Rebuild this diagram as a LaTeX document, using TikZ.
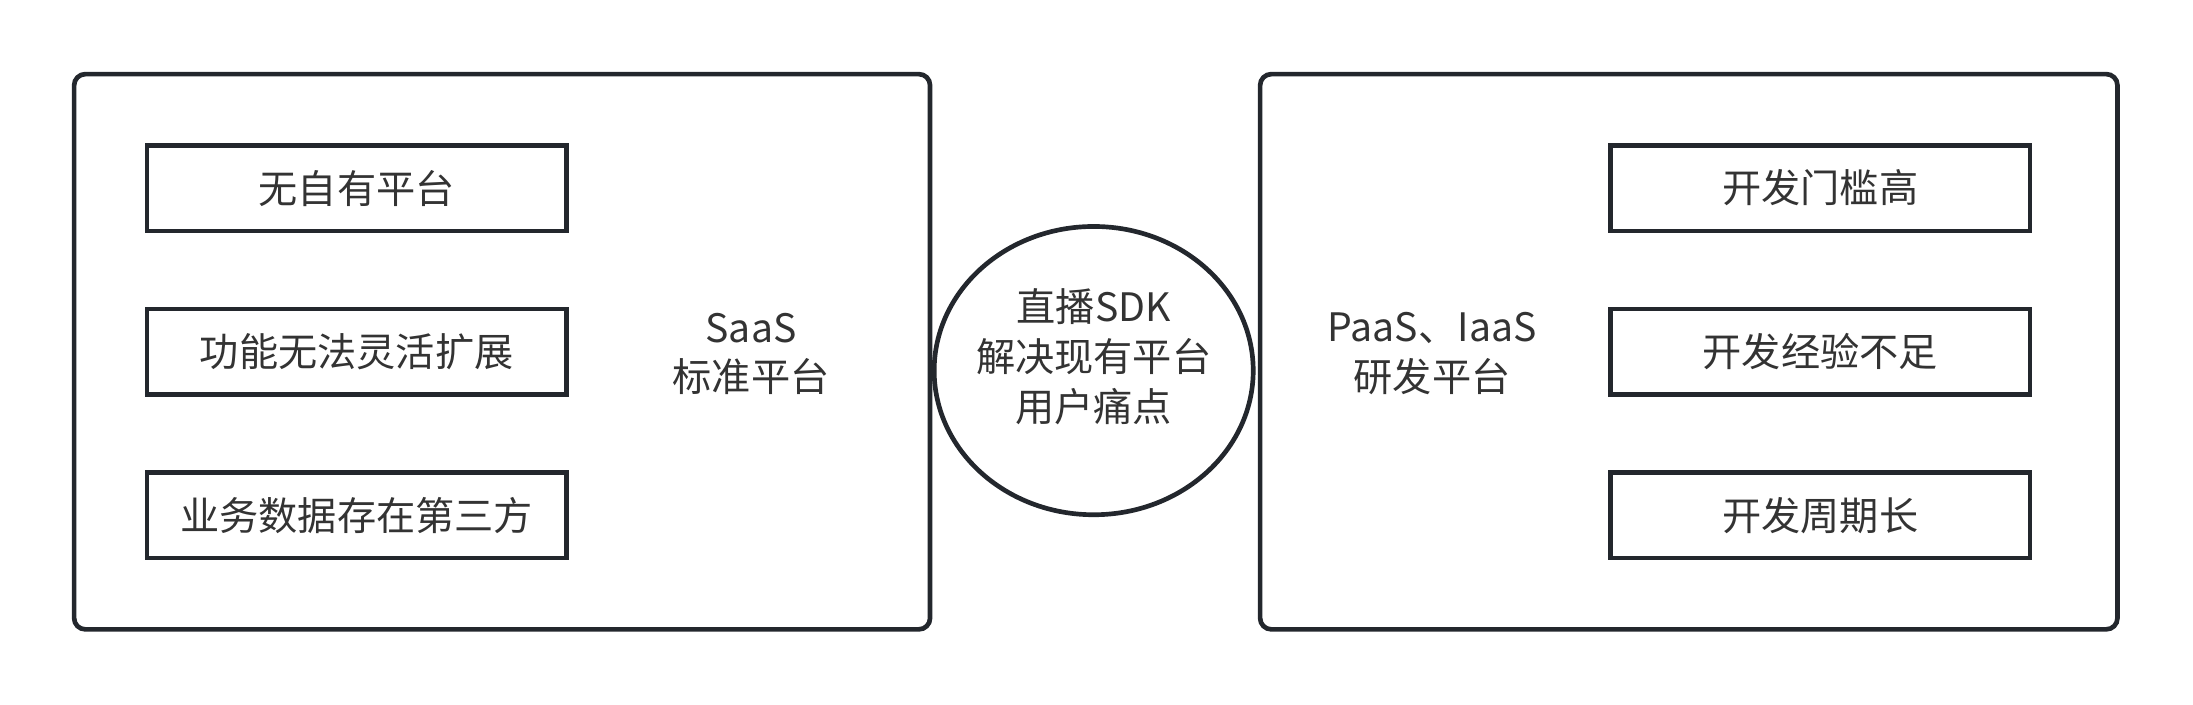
\documentclass[tikz,border=0pt]{standalone}
\usepackage{fontspec}
\setmainfont{Noto Sans CJK SC}
\usetikzlibrary{shapes.geometric}
\definecolor{ln}{HTML}{23272D}
\definecolor{tx}{HTML}{333333}
\begin{document}
\begin{tikzpicture}[x=0.01cm,y=-0.01cm,
  every node/.style={font=\fontsize{7.97pt}{10.1pt}\selectfont, text=tx, align=center},
  outerbox/.style={draw=ln, line width=0.95pt, rounded corners=0.08cm},
  itembox/.style={draw=ln, line width=0.9pt, rectangle, minimum width=3.0cm, minimum height=0.61cm, inner sep=0pt},
  hub/.style={draw=ln, line width=0.95pt, ellipse, minimum width=2.28cm, minimum height=2.06cm, inner sep=0pt}]
\useasboundingbox (0,0) rectangle (1568,504);
\draw[outerbox] (53,53) rectangle (665,450);
\draw[outerbox] (901,53) rectangle (1514,450);
\node[itembox] (l1) at (255,134.5) {无自有平台};
\node[itembox] (l2) at (255,251.5) {功能无法灵活扩展};
\node[itembox] (l3) at (255,368.5) {业务数据存在第三方};
\node (saas) at (537,253) {SaaS\\标准平台};
\node[hub] (hub) at (782,265) {};
\node (hubtext) at ([yshift=0.1cm]hub.center) {直播SDK\\解决现有平台\\用户痛点};
\node (paas) at (1024,253) {PaaS、IaaS\\研发平台};
\node[itembox] (r1) at (1301.5,134.5) {开发门槛高};
\node[itembox] (r2) at (1301.5,251.5) {开发经验不足};
\node[itembox] (r3) at (1301.5,368.5) {开发周期长};
\end{tikzpicture}
\end{document}
